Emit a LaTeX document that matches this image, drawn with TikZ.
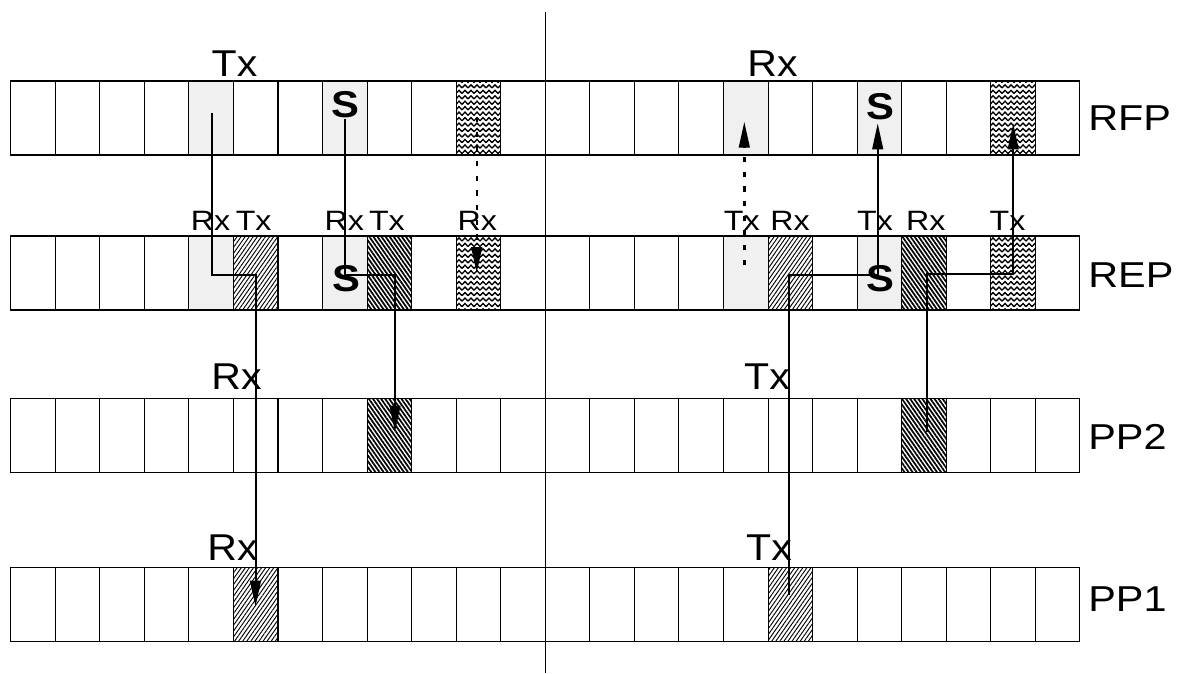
\documentclass[tikz,border=0pt]{standalone}
\usepackage{fontspec}
\setmainfont{Liberation Sans}
\usetikzlibrary{patterns,patterns.meta,arrows.meta,calc}

\pgfdeclarepattern{
  name=zigzag,
  type=uncolored,
  bottom left={\pgfpoint{-0.5pt}{-0.5pt}},
  top right={\pgfpoint{5pt}{4.6pt}},
  tile size={\pgfpoint{4.5pt}{4.1pt}},
  code={
    \pgfsetlinewidth{1pt}
    \pgfpathmoveto{\pgfpoint{0pt}{0.8pt}}
    \pgfpathlineto{\pgfpoint{2.25pt}{3.2pt}}
    \pgfpathlineto{\pgfpoint{4.5pt}{0.8pt}}
    \pgfusepath{stroke}
  }
}

\tikzset{
  cell/.style={draw, line width=0.8pt, minimum width=33.41pt, minimum height=55.5pt,
    inner sep=0pt, outer sep=0pt, anchor=north west},
  grayc/.style={fill=black!6},
  hne/.style={pattern={Lines[angle=55,distance=2.5pt,line width=0.7pt]}},
  hnw/.style={pattern={Lines[angle=-55,distance=2.5pt,line width=1.3pt]}},
  zz/.style={pattern=zigzag},
  cellA4/.style={grayc}, cellA7/.style={grayc}, cellA10/.style={zz},
  cellA16/.style={grayc}, cellA19/.style={grayc}, cellA22/.style={zz},
  cellB4/.style={grayc}, cellB5/.style={hne}, cellB7/.style={grayc}, cellB8/.style={hnw}, cellB10/.style={zz},
  cellB16/.style={grayc}, cellB17/.style={hne}, cellB19/.style={grayc}, cellB20/.style={hnw}, cellB22/.style={zz},
  cellC8/.style={hnw}, cellC20/.style={hnw},
  cellD5/.style={hne}, cellD17/.style={hne},
  big/.style={font=\fontsize{28}{30}\selectfont, anchor=base, inner sep=0pt},
  small/.style={font=\fontsize{21}{24}\selectfont, anchor=base, inner sep=0pt},
  rowlab/.style={font=\fontsize{27}{30}\selectfont, anchor=base west, inner sep=0pt},
  sbold/.style={font=\fontsize{28}{30}\selectfont\bfseries, anchor=center, inner sep=0pt},
  arr/.style={line width=1.5pt, -{Triangle[length=19.5pt,width=8pt]}},
  dots/.style={arr, line width=1.8pt, dash pattern=on 4pt off 7pt},
}

\begin{document}
\begin{tikzpicture}[x=0.75pt,y=-0.75pt]
\useasboundingbox (0,0) rectangle (1177,674);

% cells
\foreach \r/\yy in {A/81,B/236,C/398.3,D/567.3}{
  \foreach \c in {0,...,23}{
    \node[cell, cell\r\c/.try] (c\r\c) at ({10.7+44.55*\c},\yy) {};
  }
}

% centre divider
\coordinate (divtop) at (545.7,12);
\coordinate (divbot) at (545.7,673);
\draw[line width=0.75pt] (divtop) -- (divbot);

% row labels
\node[rowlab] (lRFP) at (1088,130) {\scalebox{1.15}[1]{RFP}};
\node[rowlab] (lREP) at (1088,287) {\scalebox{1.15}[1]{REP}};
\node[rowlab] (lPP2) at (1088,449.3) {\scalebox{1.15}[1]{PP2}};
\node[rowlab] (lPP1) at (1088,611.7) {\scalebox{1.15}[1]{PP1}};

% connector coordinates
\coordinate (p1a) at (212,113.3);
\coordinate (p1b) at (255.5,275);
\coordinate (p1c) at (255.5,606.7);
\coordinate (p2a) at (345,119);
\coordinate (p2b) at (395,275);
\coordinate (p2c) at (395,431.7);
\coordinate (p3a) at (476.7,117);
\coordinate (p3b) at (476.7,273);
\coordinate (p4a) at (789.3,595);
\coordinate (p4b) at (877.7,275);
\coordinate (p4c) at (877.7,123.3);
\coordinate (p5a) at (926.5,431.7);
\coordinate (p5b) at (1013.2,274);
\coordinate (p5c) at (1013.2,123.3);
\coordinate (p6a) at (744.3,265);
\coordinate (p6b) at (744.3,121.7);

\draw[arr] (p1a) |- (p1b) -- (p1c);
\draw[arr] (p2a) |- (p2b) -- (p2c);
\draw[dots] (p3a) -- (p3b);
\draw[arr] (p4a) |- (p4b) -- (p4c);
\draw[arr] (p5a) |- (p5b) -- (p5c);
\draw[dots] (p6a) -- (p6b);

% S markers
\node[sbold] (sA7) at (345.7,105) {\scalebox{1.12}[1]{S}};
\node[sbold] (sB7) at (346.7,278.3) {\scalebox{1.12}[1]{S}};
\node[sbold] (sB19) at (880.8,278.3) {\scalebox{1.12}[1]{S}};
\node[sbold] (sA19) at (880.7,106.7) {\scalebox{1.12}[1]{S}};

% big labels
\node[big] (tTx) at (234.5,76.7) {\scalebox{1.1}[1]{Tx}};
\node[big] (tRx) at (772.5,76.7) {\scalebox{1.1}[1]{Rx}};
\node[big] (c2Rx) at (236.5,389.3) {\scalebox{1.1}[1]{Rx}};
\node[big] (c2Tx) at (767,389.3) {\scalebox{1.1}[1]{Tx}};
\node[big] (c1Rx) at (232.5,560.7) {\scalebox{1.1}[1]{Rx}};
\node[big] (c1Tx) at (769,560.7) {\scalebox{1.1}[1]{Tx}};

% small labels above REP
\node[small] (b1) at (210.5,230.7) {\scalebox{1.15}[1]{Rx}};
\node[small] (b2) at (253.7,230.7) {\scalebox{1.15}[1]{Tx}};
\node[small] (b3) at (344.2,230.7) {\scalebox{1.15}[1]{Rx}};
\node[small] (b4) at (386.9,230.7) {\scalebox{1.15}[1]{Tx}};
\node[small] (b5) at (477.2,230.7) {\scalebox{1.15}[1]{Rx}};
\node[small] (b6) at (741.7,230.7) {\scalebox{1.15}[1]{Tx}};
\node[small] (b7) at (790,230.7) {\scalebox{1.15}[1]{Rx}};
\node[small] (b8) at (875,230.7) {\scalebox{1.15}[1]{Tx}};
\node[small] (b9) at (925.8,230.7) {\scalebox{1.15}[1]{Rx}};
\node[small] (b10) at (1007.5,230.7) {\scalebox{1.15}[1]{Tx}};
\end{tikzpicture}
\end{document}
